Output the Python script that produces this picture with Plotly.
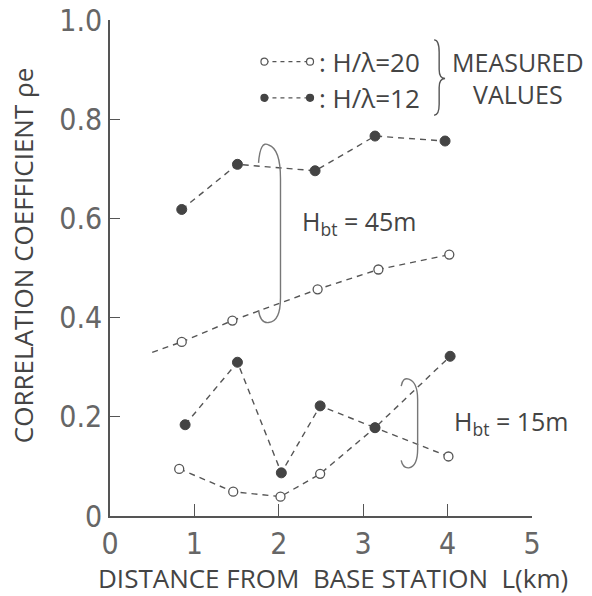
import plotly.graph_objects as go

# ---- data ----
x_45_h12 = [0.85, 1.51, 2.43, 3.14, 3.97]
y_45_h12 = [0.618, 0.709, 0.696, 0.766, 0.756]

x_45_h20 = [0.85, 1.45, 2.46, 3.18, 4.02]
y_45_h20 = [0.351, 0.394, 0.457, 0.497, 0.527]
lead_x = [0.50, 0.85]
lead_y = [0.330, 0.351]

x_15_h12 = [0.89, 1.51, 2.03, 2.49, 3.14, 4.03]
y_15_h12 = [0.184, 0.310, 0.087, 0.222, 0.178, 0.322]

x_15_h20 = [0.82, 1.46, 2.02, 2.49, 3.14, 4.01]
y_15_h20 = [0.095, 0.049, 0.039, 0.085, 0.178, 0.120]

x_ticks = [0, 1, 2, 3, 4, 5]
x_ticktext = ["0", "1", "2", "3", "4", "5"]
y_ticks = [0, 0.2, 0.4, 0.6, 0.8, 1.0]
y_ticktext = ["0", "0.2", "0.4", "0.6", "0.8", "1.0"]

INK = "#555555"
DARK = "#444444"
LINE = dict(color=INK, width=1.4, dash="6px,5px")
OPEN = dict(symbol="circle", size=9, color="white", line=dict(color=INK, width=1.3))
FILL = dict(symbol="circle", size=10, color=DARK, line=dict(color=DARK, width=1))

fig = go.Figure()
fig.add_trace(go.Scatter(x=lead_x, y=lead_y, mode="lines", line=LINE, hoverinfo="skip"))
fig.add_trace(go.Scatter(x=x_45_h20, y=y_45_h20, mode="lines+markers", line=LINE, marker=OPEN))
fig.add_trace(go.Scatter(x=x_15_h20, y=y_15_h20, mode="lines+markers", line=LINE, marker=OPEN))
fig.add_trace(go.Scatter(x=x_45_h12, y=y_45_h12, mode="lines+markers", line=LINE, marker=FILL))
fig.add_trace(go.Scatter(x=x_15_h12, y=y_15_h12, mode="lines+markers", line=LINE, marker=FILL))

shapes = []
# grouping loops
shapes.append(dict(type="path", xref="x", yref="y",
                   path="M 1.76,0.712 Q 1.78,0.758 1.88,0.748 Q 2.02,0.74 2.02,0.68 "
                        "L 2.02,0.44 Q 2.02,0.392 1.88,0.39 Q 1.78,0.388 1.76,0.415",
                   line=dict(color="#777777", width=1.4)))
shapes.append(dict(type="path", xref="x", yref="y",
                   path="M 3.45,0.262 Q 3.47,0.28 3.54,0.276 Q 3.645,0.27 3.645,0.235 "
                        "L 3.645,0.135 Q 3.645,0.10 3.54,0.097 Q 3.47,0.096 3.45,0.112",
                   line=dict(color="#777777", width=1.4)))
# brace
shapes.append(dict(type="path", xref="x", yref="y",
                   path="M 3.84,0.960 Q 3.90,0.960 3.90,0.935 L 3.90,0.900 Q 3.90,0.882 3.97,0.882 "
                        "Q 3.90,0.882 3.90,0.864 L 3.90,0.830 Q 3.90,0.808 3.84,0.808",
                   line=dict(color=INK, width=1.4)))
# legend keys
for yk, filled in [(0.916, False), (0.843, True)]:
    shapes.append(dict(type="line", xref="x", yref="y", x0=1.83, x1=2.37, y0=yk, y1=yk,
                       line=dict(color=INK, width=1.3, dash="4px,4px")))
    for xk in (1.83, 2.37):
        shapes.append(dict(type="circle", xref="x", yref="y", xsizemode="pixel", ysizemode="pixel",
                           xanchor=xk, yanchor=yk, x0=-3.5, x1=3.5, y0=-3.5, y1=3.5,
                           fillcolor=DARK if filled else "white",
                           line=dict(color=DARK if filled else INK, width=1.2)))

TXT = dict(family="Open Sans, sans-serif", color=DARK)
ann = [
    dict(x=2.45, y=0.916, xref="x", yref="y", text=": H/λ=20", showarrow=False,
         xanchor="left", yanchor="middle", font=dict(size=26, **TXT)),
    dict(x=2.45, y=0.843, xref="x", yref="y", text=": H/λ=12", showarrow=False,
         xanchor="left", yanchor="middle", font=dict(size=26, **TXT)),
    dict(x=4.03, y=0.916, xref="x", yref="y", text="MEASURED", showarrow=False,
         xanchor="left", yanchor="middle", font=dict(size=25, **TXT)),
    dict(x=4.28, y=0.85, xref="x", yref="y", text="VALUES", showarrow=False,
         xanchor="left", yanchor="middle", font=dict(size=25, **TXT)),
    dict(x=2.25, y=0.592, xref="x", yref="y", text="H<sub>bt</sub> = 45m", showarrow=False,
         xanchor="left", yanchor="middle", font=dict(size=25, **TXT)),
    dict(x=4.05, y=0.188, xref="x", yref="y", text="H<sub>bt</sub> = 15m", showarrow=False,
         xanchor="left", yanchor="middle", font=dict(size=25, **TXT)),
    dict(x=-0.206, y=0.524, xref="paper", yref="paper", text="CORRELATION COEFFICIENT ρe",
         textangle=-90, showarrow=False, xanchor="center", yanchor="middle",
         font=dict(size=26, **TXT)),
    dict(x=0.528, y=-0.125, xref="paper", yref="paper",
         text="DISTANCE FROM&nbsp; BASE STATION&nbsp; L(km)",
         showarrow=False, xanchor="center", yanchor="middle", font=dict(size=26, **TXT)),
]

TICKFONT = dict(family="Liberation Sans Narrow, DejaVu Sans Condensed, Liberation Mono, monospace",
                size=30, color="#666666")
fig.update_layout(
    width=592, height=596,
    margin=dict(l=110, r=60, t=20, b=80),
    paper_bgcolor="white", plot_bgcolor="white",
    showlegend=False,
    shapes=shapes, annotations=ann,
    xaxis=dict(range=[0, 5], tickvals=x_ticks, ticktext=x_ticktext, showgrid=False,
               zeroline=False, showline=True, linecolor=INK, linewidth=1.6,
               ticks="inside", ticklen=12, tickcolor=INK, tickwidth=1.2,
               tickfont=TICKFONT, fixedrange=True, automargin=False),
    yaxis=dict(range=[0, 1], tickvals=y_ticks, ticktext=y_ticktext, showgrid=False,
               zeroline=False, showline=True, linecolor=INK, linewidth=1.6,
               ticks="inside", ticklen=10, tickcolor=INK, tickwidth=1.2,
               tickfont=TICKFONT, fixedrange=True, automargin=False),
)
for tr in fig.data:
    tr.cliponaxis = False

fig.write_html("out.html")
